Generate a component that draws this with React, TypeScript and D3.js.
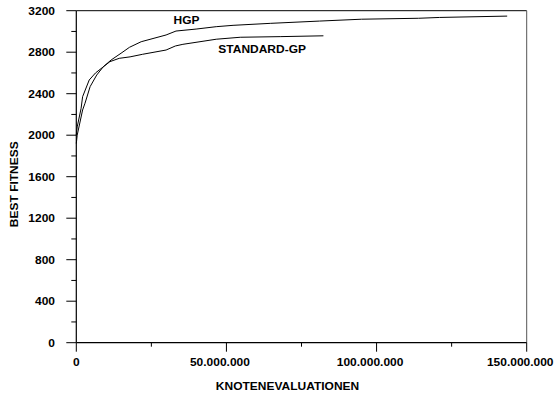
import React from "react";
import * as d3 from "d3";

// Evaluations in millions, best fitness per run
const hgpEvals = [0, 0.3, 2.1, 2.9, 4.6, 6.8, 9.0, 11.6, 14.9, 17.7, 21.6, 29.9, 33.2, 39.9, 46.6, 52.2, 64.6, 81, 95, 114, 121, 143.5];
const hgpFitness = [1920, 2000, 2243, 2308, 2468, 2580, 2660, 2725, 2790, 2847, 2901, 2966, 3004, 3023, 3046, 3059, 3078, 3100, 3118, 3127, 3135, 3148];

const stdEvals = [0, 0.3, 1.6, 2.1, 4.3, 6.4, 8.6, 11.2, 14.3, 17.9, 22.1, 29.9, 33.0, 35.5, 46.6, 54.6, 67.9, 82.3];
const stdFitness = [2000, 2080, 2259, 2371, 2532, 2600, 2650, 2709, 2741, 2755, 2780, 2821, 2860, 2876, 2925, 2944, 2950, 2958];

const xMajorTicks = [0, 50, 100, 150];
const xMinorTicks = [25, 75, 125];
const yMajorTicks = [0, 400, 800, 1200, 1600, 2000, 2400, 2800, 3200];
const yMinorTicks = [200, 600, 1000, 1400, 1800, 2200, 2600, 3000];

const seriesLabels = ["HGP", "STANDARD-GP"];

const W = 555;
const H = 400;
const left = 76.3;
const right = 526.7;
const top = 10.7;
const bottom = 342.7;

const FONT = "'Liberation Sans', Arial, sans-serif";
const SX = 1.09;

const de = d3.formatLocale({ decimal: ",", thousands: ".", grouping: [3], currency: ["", "€"] });
const fmtX = de.format(",d");

type LabelProps = { x: number; y: number; text: string; anchor?: string; rotate?: number; size?: number };
function Label({ x, y, text, anchor = "start", rotate = 0, size = 11 }: LabelProps) {
  return (
    <text
      transform={`translate(${x},${y}) rotate(${rotate}) scale(${SX},1)`}
      textAnchor={anchor}
      fontFamily={FONT}
      fontWeight="bold"
      fontSize={size}
      fill="#000"
    >
      {text}
    </text>
  );
}

export default function App() {
  const x = d3.scaleLinear().domain([0, 150]).range([left, right]);
  const y = d3.scaleLinear().domain([0, 3200]).range([bottom, top]);

  const line = d3
    .line<[number, number]>()
    .x((d) => x(d[0]))
    .y((d) => y(d[1]));

  const hgp = hgpEvals.map((e, i) => [e, hgpFitness[i]] as [number, number]);
  const std = stdEvals.map((e, i) => [e, stdFitness[i]] as [number, number]);

  return (
    <svg
      width={W}
      height={H}
      style={{ position: "absolute", left: 0, top: 0, background: "#fff" }}
    >
      {/* frame */}
      <line x1={left} x2={right} y1={top} y2={top} stroke="#000" strokeWidth={1} />
      <line x1={right} x2={right} y1={top} y2={bottom} stroke="#555" strokeWidth={1} />
      <line x1={left} x2={left} y1={top} y2={bottom} stroke="#000" strokeWidth={1.2} />
      <line x1={left} x2={right} y1={bottom} y2={bottom} stroke="#000" strokeWidth={1.2} />

      {/* y ticks */}
      {yMajorTicks.map((t) => (
        <g key={`ym${t}`}>
          <line x1={left - 10} x2={left} y1={y(t)} y2={y(t)} stroke="#000" strokeWidth={1} />
          <Label x={55} y={y(t) + 4} text={String(t)} anchor="end" />
        </g>
      ))}
      {yMinorTicks.map((t) => (
        <line key={`yn${t}`} x1={left - 5} x2={left} y1={y(t)} y2={y(t)} stroke="#000" strokeWidth={1} />
      ))}

      {/* x ticks */}
      {xMajorTicks.map((t) => (
        <g key={`xm${t}`}>
          <line x1={x(t)} x2={x(t)} y1={bottom} y2={bottom + 9} stroke="#000" strokeWidth={1} />
          <Label x={x(t) - (t > 0 ? 6.5 : 0)} y={366} text={fmtX(t * 1e6)} anchor="middle" />
        </g>
      ))}
      {xMinorTicks.map((t) => (
        <line key={`xn${t}`} x1={x(t)} x2={x(t)} y1={bottom} y2={bottom + 4} stroke="#000" strokeWidth={1} />
      ))}

      {/* axis titles */}
      <Label x={287.5} y={389.5} text="KNOTENEVALUATIONEN" anchor="middle" />
      <Label x={18} y={184.2} text="BEST FITNESS" anchor="middle" rotate={-90} />

      {/* series */}
      <path d={line(std) ?? ""} fill="none" stroke="#000" strokeWidth={1} />
      <path d={line(hgp) ?? ""} fill="none" stroke="#000" strokeWidth={1} />

      {/* series labels */}
      <Label x={173.5} y={24.3} text={seriesLabels[0]} />
      <Label x={218.3} y={52.7} text={seriesLabels[1]} />
    </svg>
  );
}
